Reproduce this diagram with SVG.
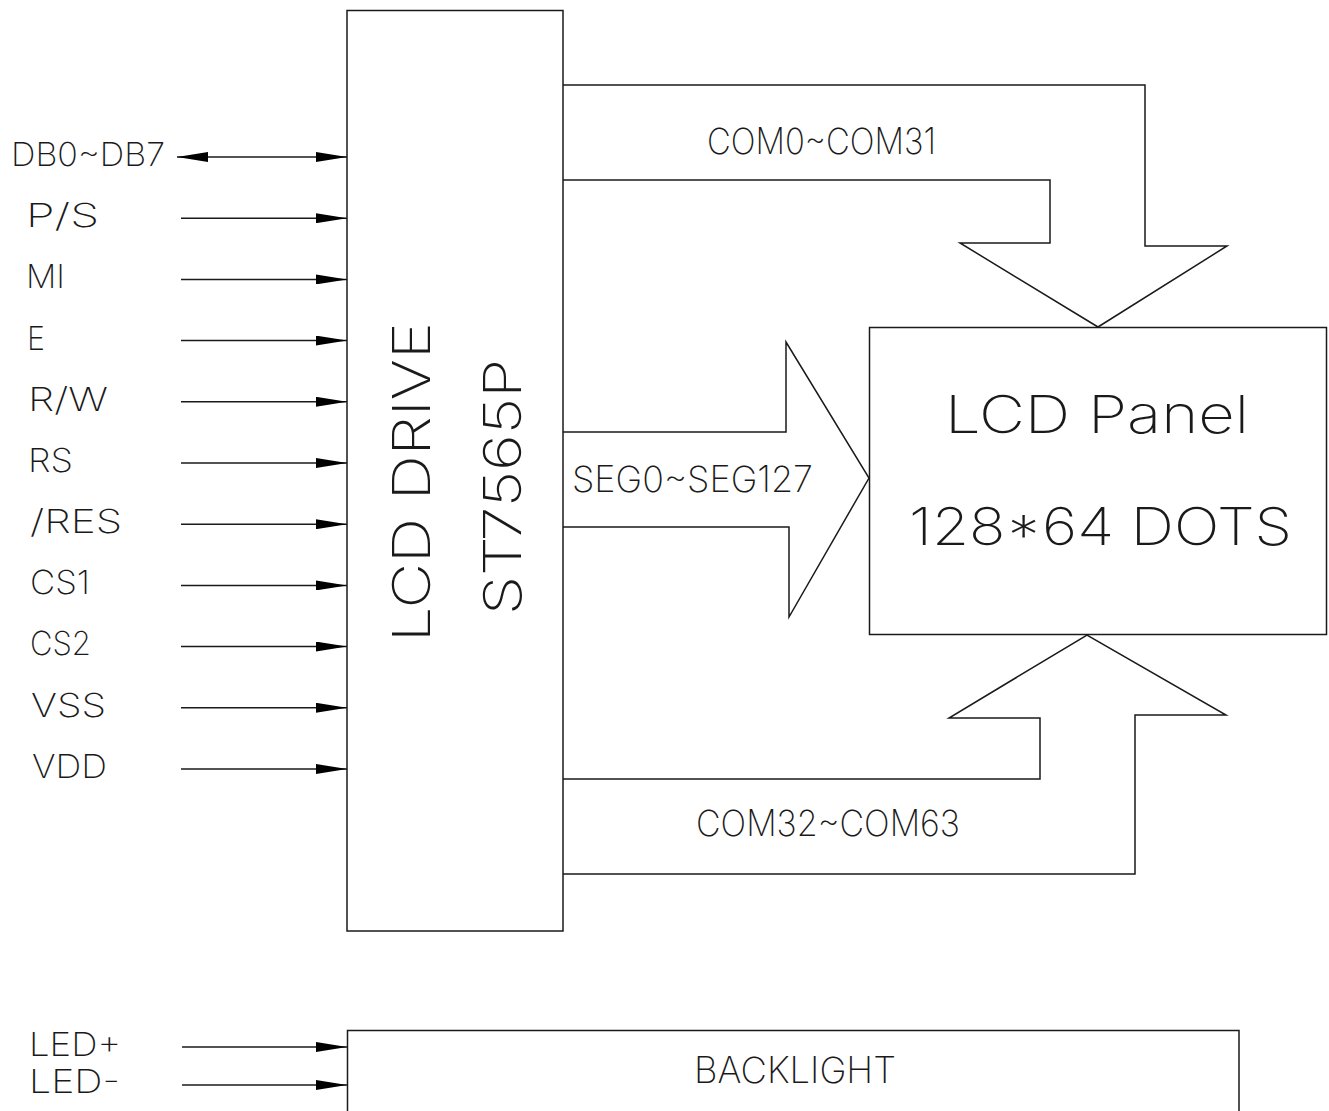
<svg xmlns="http://www.w3.org/2000/svg" width="1329" height="1111" viewBox="0 0 1329 1111">
<style>
.ln{fill:none;stroke:#1a1a1a;stroke-width:1.5}
.t{font-family:"Inter","Lato","Liberation Sans",sans-serif;font-weight:200;fill:#1a1a1a}
.s{font-size:33px}
.m{font-size:36px}
.b{font-size:52px}
</style>
<defs>
<marker id="ah" viewBox="0 0 31 10" refX="31" refY="5" markerWidth="31" markerHeight="10" markerUnits="userSpaceOnUse" orient="auto-start-reverse">
<path d="M0,0 L31,5 L0,10 z" fill="#000"/>
</marker>
</defs>
<rect width="1329" height="1111" fill="#fff"/>

<g id="lcd-drive">
<rect class="ln" x="347" y="10.5" width="216" height="920.5"/>
<text class="t b" transform="translate(430,642) rotate(-90)" textLength="320" lengthAdjust="spacingAndGlyphs">LCD DRIVE</text>
<text class="t b" transform="translate(521,615) rotate(-90)" textLength="256" lengthAdjust="spacingAndGlyphs">ST7565P</text>
</g>

<g id="lcd-panel">
<rect class="ln" x="869.5" y="327.5" width="457" height="307"/>
<text class="t b" x="945" y="433" textLength="304" lengthAdjust="spacingAndGlyphs">LCD Panel</text>
<text class="t b" x="909" y="545" textLength="383" lengthAdjust="spacingAndGlyphs">128*64 DOTS</text>
</g>

<g id="backlight">
<path class="ln" d="M347.5,1111 V1030.5 H1239 V1111"/>
<text class="t m" x="694" y="1083" textLength="202" lengthAdjust="spacingAndGlyphs">BACKLIGHT</text>
</g>

<g id="pin-labels">
<text class="t s" x="11" y="166" textLength="154" lengthAdjust="spacingAndGlyphs">DB0~DB7</text>
<text class="t s" x="26" y="227" textLength="73" lengthAdjust="spacingAndGlyphs">P/S</text>
<text class="t s" x="26" y="288" textLength="39" lengthAdjust="spacingAndGlyphs">MI</text>
<text class="t s" x="27" y="350" textLength="18" lengthAdjust="spacingAndGlyphs">E</text>
<text class="t s" x="28" y="411" textLength="80" lengthAdjust="spacingAndGlyphs">R/W</text>
<text class="t s" x="28" y="472" textLength="45" lengthAdjust="spacingAndGlyphs">RS</text>
<text class="t s" x="30" y="533" textLength="92" lengthAdjust="spacingAndGlyphs">/RES</text>
<text class="t s" x="30" y="594" textLength="60" lengthAdjust="spacingAndGlyphs">CS1</text>
<text class="t s" x="30" y="655" textLength="61" lengthAdjust="spacingAndGlyphs">CS2</text>
<text class="t s" x="31" y="717" textLength="75" lengthAdjust="spacingAndGlyphs">VSS</text>
<text class="t s" x="32" y="778" textLength="75" lengthAdjust="spacingAndGlyphs">VDD</text>
<text class="t s" x="29" y="1056" textLength="92" lengthAdjust="spacingAndGlyphs">LED+</text>
<text class="t s" x="29" y="1093" textLength="91" lengthAdjust="spacingAndGlyphs">LED-</text>
</g>

<g id="connectors">
<line class="ln" x1="177" y1="157" x2="347" y2="157" marker-start="url(#ah)" marker-end="url(#ah)"/>
<line class="ln" x1="181" y1="218.2" x2="347" y2="218.2" marker-end="url(#ah)"/>
<line class="ln" x1="181" y1="279.4" x2="347" y2="279.4" marker-end="url(#ah)"/>
<line class="ln" x1="181" y1="340.6" x2="347" y2="340.6" marker-end="url(#ah)"/>
<line class="ln" x1="181" y1="401.8" x2="347" y2="401.8" marker-end="url(#ah)"/>
<line class="ln" x1="181" y1="463" x2="347" y2="463" marker-end="url(#ah)"/>
<line class="ln" x1="181" y1="524.2" x2="347" y2="524.2" marker-end="url(#ah)"/>
<line class="ln" x1="181" y1="585.4" x2="347" y2="585.4" marker-end="url(#ah)"/>
<line class="ln" x1="181" y1="646.6" x2="347" y2="646.6" marker-end="url(#ah)"/>
<line class="ln" x1="181" y1="707.8" x2="347" y2="707.8" marker-end="url(#ah)"/>
<line class="ln" x1="181" y1="769" x2="347" y2="769" marker-end="url(#ah)"/>
<line class="ln" x1="182" y1="1047" x2="347" y2="1047" marker-end="url(#ah)"/>
<line class="ln" x1="182" y1="1085" x2="347" y2="1085" marker-end="url(#ah)"/>

<polyline class="ln" points="563,85 1145,85 1145,246 1227,246 1098,327 960,243 1050,243 1050,180 563,180"/>
<text class="t m" x="707" y="154" textLength="229" lengthAdjust="spacingAndGlyphs">COM0~COM31</text>

<polyline class="ln" points="563,432 786,432 786,342 869,478 789,617 789,527 563,527"/>
<text class="t m" x="572" y="492" textLength="241" lengthAdjust="spacingAndGlyphs">SEG0~SEG127</text>

<polyline class="ln" points="563,779 1040,779 1040,718 949,718 1087,635 1226,715 1135,715 1135,874 563,874"/>
<text class="t m" x="696" y="836" textLength="264" lengthAdjust="spacingAndGlyphs">COM32~COM63</text>
</g>
</svg>
